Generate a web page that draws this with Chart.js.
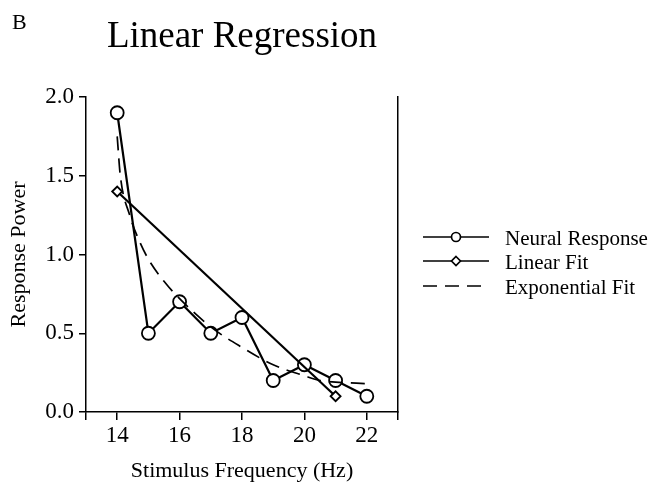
<!DOCTYPE html>
<html>
<head>
<meta charset="utf-8">
<script src="https://cdn.jsdelivr.net/npm/chart.js@4.4.1/dist/chart.umd.min.js"></script>
<style>
  html, body { margin: 0; padding: 0; background: #fff; }
  #wrap { width: 657px; height: 485px; }
</style>
</head>
<body>
<div id="wrap"><canvas id="myChart" width="657" height="485"></canvas></div>
<script>
const frequencies = [14, 15, 16, 17, 18, 19, 20, 21, 22];
const neuralResponse = [1.9, 0.5, 0.7, 0.5, 0.6, 0.2, 0.3, 0.2, 0.1];

const linearFitX = [14, 21];
const linearFitY = [1.4, 0.1];

const expFitX = [14, 14.1, 14.4, 14.7, 15, 15.5, 16, 17, 18, 19, 20, 20.5, 21, 22];
const expFitY = [1.75, 1.5, 1.25, 1.09, 0.97, 0.83, 0.72, 0.54, 0.41, 0.3, 0.23, 0.2, 0.19, 0.18];

const xTickValues = [13, 14, 16, 18, 20, 22, 23];
const xLabelled = [14, 16, 18, 20, 22];

const legendItems = ["Neural Response", "Linear Fit", "Exponential Fit"];

const serif = "'Liberation Serif', 'Times New Roman', serif";

const toPoints = (xs, ys) => xs.map((x, i) => ({ x: x, y: ys[i] }));

// title, panel letter and the legend are drawn on the canvas by hand
const extras = {
  id: "extras",
  afterDraw(chart) {
    const ctx = chart.ctx;
    ctx.save();
    ctx.fillStyle = "#000";
    ctx.textBaseline = "alphabetic";

    ctx.font = "22px " + serif;
    ctx.textAlign = "left";
    ctx.fillText("B", 12, 29);

    ctx.font = "37px " + serif;
    ctx.textAlign = "center";
    ctx.fillText("Linear Regression", 242, 47);

    const rows = [237, 261, 286];
    ctx.strokeStyle = "#000";
    ctx.lineWidth = 1.7;
    rows.forEach((y, i) => {
      ctx.beginPath();
      if (i === 2) ctx.setLineDash([14, 8]);
      ctx.moveTo(423, y);
      ctx.lineTo(489, y);
      ctx.stroke();
      ctx.setLineDash([]);
      if (i === 0) {
        ctx.beginPath();
        ctx.arc(456, y, 4.5, 0, Math.PI * 2);
        ctx.fillStyle = "#fff";
        ctx.fill();
        ctx.stroke();
      } else if (i === 1) {
        ctx.beginPath();
        ctx.moveTo(456, y - 4.5);
        ctx.lineTo(460.5, y);
        ctx.lineTo(456, y + 4.5);
        ctx.lineTo(451.5, y);
        ctx.closePath();
        ctx.fillStyle = "#fff";
        ctx.fill();
        ctx.stroke();
      }
      ctx.fillStyle = "#000";
      ctx.font = "21px " + serif;
      ctx.textAlign = "left";
      ctx.fillText(legendItems[i], 505, y + 8);
    });
    ctx.restore();
  }
};

const config = {
  type: "line",
  data: {
    datasets: [
      {
        label: "Exponential Fit",
        data: toPoints(expFitX, expFitY),
        borderColor: "#000",
        borderWidth: 1.7,
        borderDash: [14, 8],
        pointRadius: 0,
        cubicInterpolationMode: "monotone",
        fill: false,
      },
      {
        label: "Linear Fit",
        data: toPoints(linearFitX, linearFitY),
        borderColor: "#000",
        borderWidth: 2.2,
        pointStyle: "rectRot",
        pointRadius: 5,
        pointBorderWidth: 1.8,
        pointBackgroundColor: "#fff",
        tension: 0,
        fill: false,
      },
      {
        label: "Neural Response",
        data: toPoints(frequencies, neuralResponse),
        borderColor: "#000",
        borderWidth: 2.2,
        pointStyle: "circle",
        pointRadius: 6.5,
        pointBorderWidth: 1.8,
        pointBackgroundColor: "#fff",
        tension: 0,
        fill: false,
      },
    ],
  },
  options: {
    responsive: false,
    animation: false,
    clip: false,
    layout: { padding: { left: 0, top: 97, right: 259, bottom: 0 } },
    plugins: {
      legend: { display: false },
      title: { display: false },
      tooltip: { enabled: false },
    },
    scales: {
      x: {
        type: "linear",
        min: 13,
        max: 23,
        afterBuildTicks: (scale) => {
          scale.ticks = xTickValues.map((v) => ({ value: v }));
        },
        afterFit: (scale) => { scale.height = 73; },
        ticks: {
          autoSkip: false,
          maxRotation: 0,
          padding: 2,
          color: "#000",
          font: { family: serif, size: 23 },
          callback: (v) => (xLabelled.includes(v) ? String(v) : ""),
        },
        grid: { drawOnChartArea: false, drawTicks: true, tickLength: 8, color: "#000", lineWidth: 1.5 },
        border: { display: true, color: "#000", width: 1.5 },
        title: {
          display: true,
          text: "Stimulus Frequency (Hz)",
          color: "#000",
          font: { family: serif, size: 22 },
          padding: { top: 8, bottom: 1 },
        },
      },
      y: {
        min: 0,
        max: 2,
        afterFit: (scale) => { scale.width = 86; },
        ticks: {
          stepSize: 0.5,
          padding: 5,
          color: "#000",
          font: { family: serif, size: 23 },
          callback: (v) => v.toFixed(1),
        },
        grid: { drawOnChartArea: false, drawTicks: true, tickLength: 7, color: "#000", lineWidth: 1.5 },
        border: { display: true, color: "#000", width: 1.5 },
        title: {
          display: true,
          text: "Response Power",
          color: "#000",
          font: { family: serif, size: 22 },
          padding: { top: 6, bottom: 0 },
        },
      },
      y2: {
        position: "right",
        min: 0,
        max: 2,
        afterFit: (scale) => { scale.width = 0; },
        ticks: { display: false },
        grid: { drawOnChartArea: false, drawTicks: false },
        border: { display: true, color: "#000", width: 1.5 },
      },
    },
  },
  plugins: [extras],
};

new Chart(document.getElementById("myChart").getContext("2d"), config);
</script>
</body>
</html>
